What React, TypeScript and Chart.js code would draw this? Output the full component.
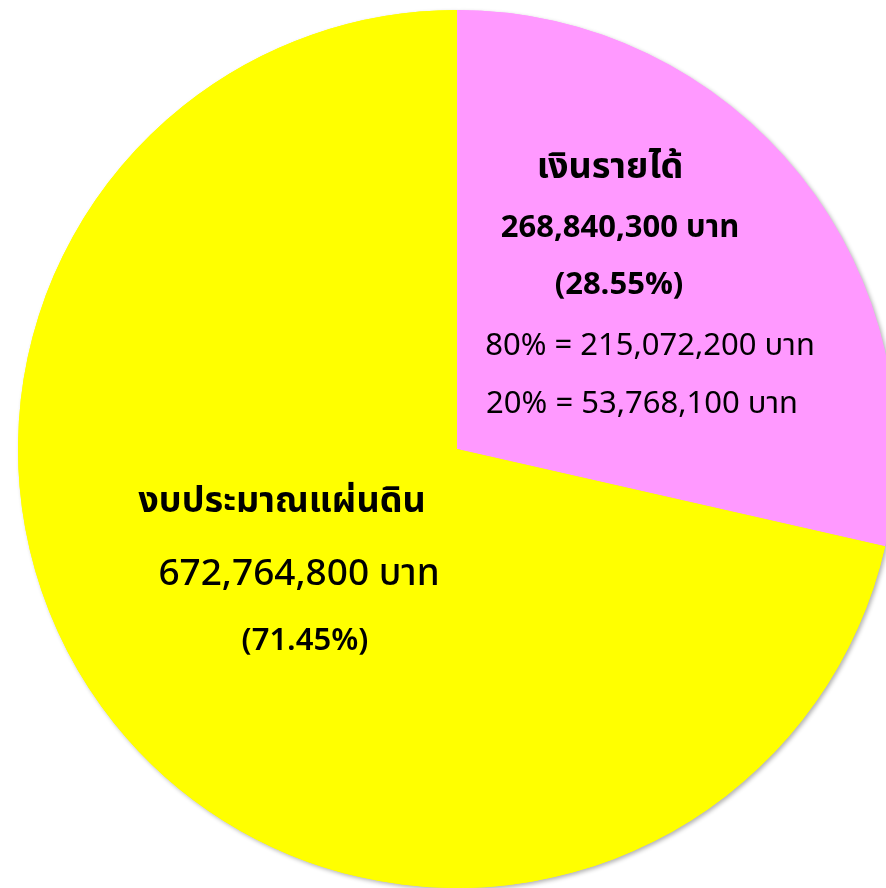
import React, { useEffect, useRef } from "react";
import { Chart, registerables } from "chart.js";

Chart.register(...registerables);

const categories = ["เงินรายได้", "งบประมาณแผ่นดิน"];
const amounts = [268840300, 672764800];
const percentLabels = ["(28.55%)", "(71.45%)"];
const amountLabels = ["268,840,300 บาท", "672,764,800 บาท"];
const splitLabels = ["80% = 215,072,200 บาท", "20% = 53,768,100 บาท"];
const colors = ["#FF99FF", "#FFFF00"];

const FONT = "'Noto Sans Thai', 'Noto Sans', Tahoma, 'DejaVu Sans', sans-serif";

type Line = { text: string; dx: number; dy: number; size: number; weight: string };

const labelPlugin = {
  id: "sliceLabels",
  beforeDatasetsDraw(chart: any) {
    const ctx = chart.ctx;
    const meta = chart.getDatasetMeta(0);
    ctx.save();
    ctx.shadowColor = "rgba(0,0,0,0.3)";
    ctx.shadowBlur = 4;
    ctx.shadowOffsetX = 2;
    ctx.shadowOffsetY = 2;
    meta.data.forEach((arc: any) => arc.draw(ctx));
    ctx.restore();
  },
  afterDraw(chart: any) {
    const ctx = chart.ctx;
    const meta = chart.getDatasetMeta(0);
    const cx = meta.data[0].x;
    const cy = meta.data[0].y;
    const lines: Line[] = [
      { text: categories[0], dx: 153, dy: -271, size: 36, weight: "bold" },
      { text: amountLabels[0], dx: 163, dy: -212, size: 31, weight: "bold" },
      { text: percentLabels[0], dx: 162, dy: -155, size: 31, weight: "bold" },
      { text: splitLabels[0], dx: 193, dy: -94, size: 31, weight: "normal" },
      { text: splitLabels[1], dx: 185, dy: -36, size: 31, weight: "normal" },
      { text: categories[1], dx: -175, dy: 63, size: 36, weight: "bold" },
      { text: amountLabels[1], dx: -158, dy: 136, size: 37, weight: "500" },
      { text: percentLabels[1], dx: -152, dy: 201, size: 31, weight: "600" },
    ];
    ctx.save();
    ctx.fillStyle = "#000";
    ctx.textAlign = "center";
    ctx.textBaseline = "alphabetic";
    for (const l of lines) {
      ctx.font = `${l.weight} ${l.size}px ${FONT}`;
      ctx.fillText(l.text, cx + l.dx, cy + l.dy);
    }
    ctx.restore();
  },
};

export default function App() {
  const ref = useRef<HTMLCanvasElement | null>(null);
  useEffect(() => {
    document.body.style.margin = "0";
    const canvas = ref.current!;
    const chart = new Chart(canvas, {
      type: "pie",
      data: {
        labels: categories,
        datasets: [
          {
            data: amounts,
            backgroundColor: colors,
            borderWidth: 0,
          },
        ],
      },
      options: {
        animation: false,
        responsive: false,
        layout: { padding: 10 },
        plugins: {
          legend: { display: false },
          tooltip: { enabled: false },
        },
      },
      plugins: [labelPlugin],
    });
    return () => chart.destroy();
  }, []);
  return (
    <div style={{ width: 886, height: 888, overflow: "hidden", background: "#fff" }}>
      <canvas ref={ref} width={914} height={898} style={{ display: "block" }} />
    </div>
  );
}
